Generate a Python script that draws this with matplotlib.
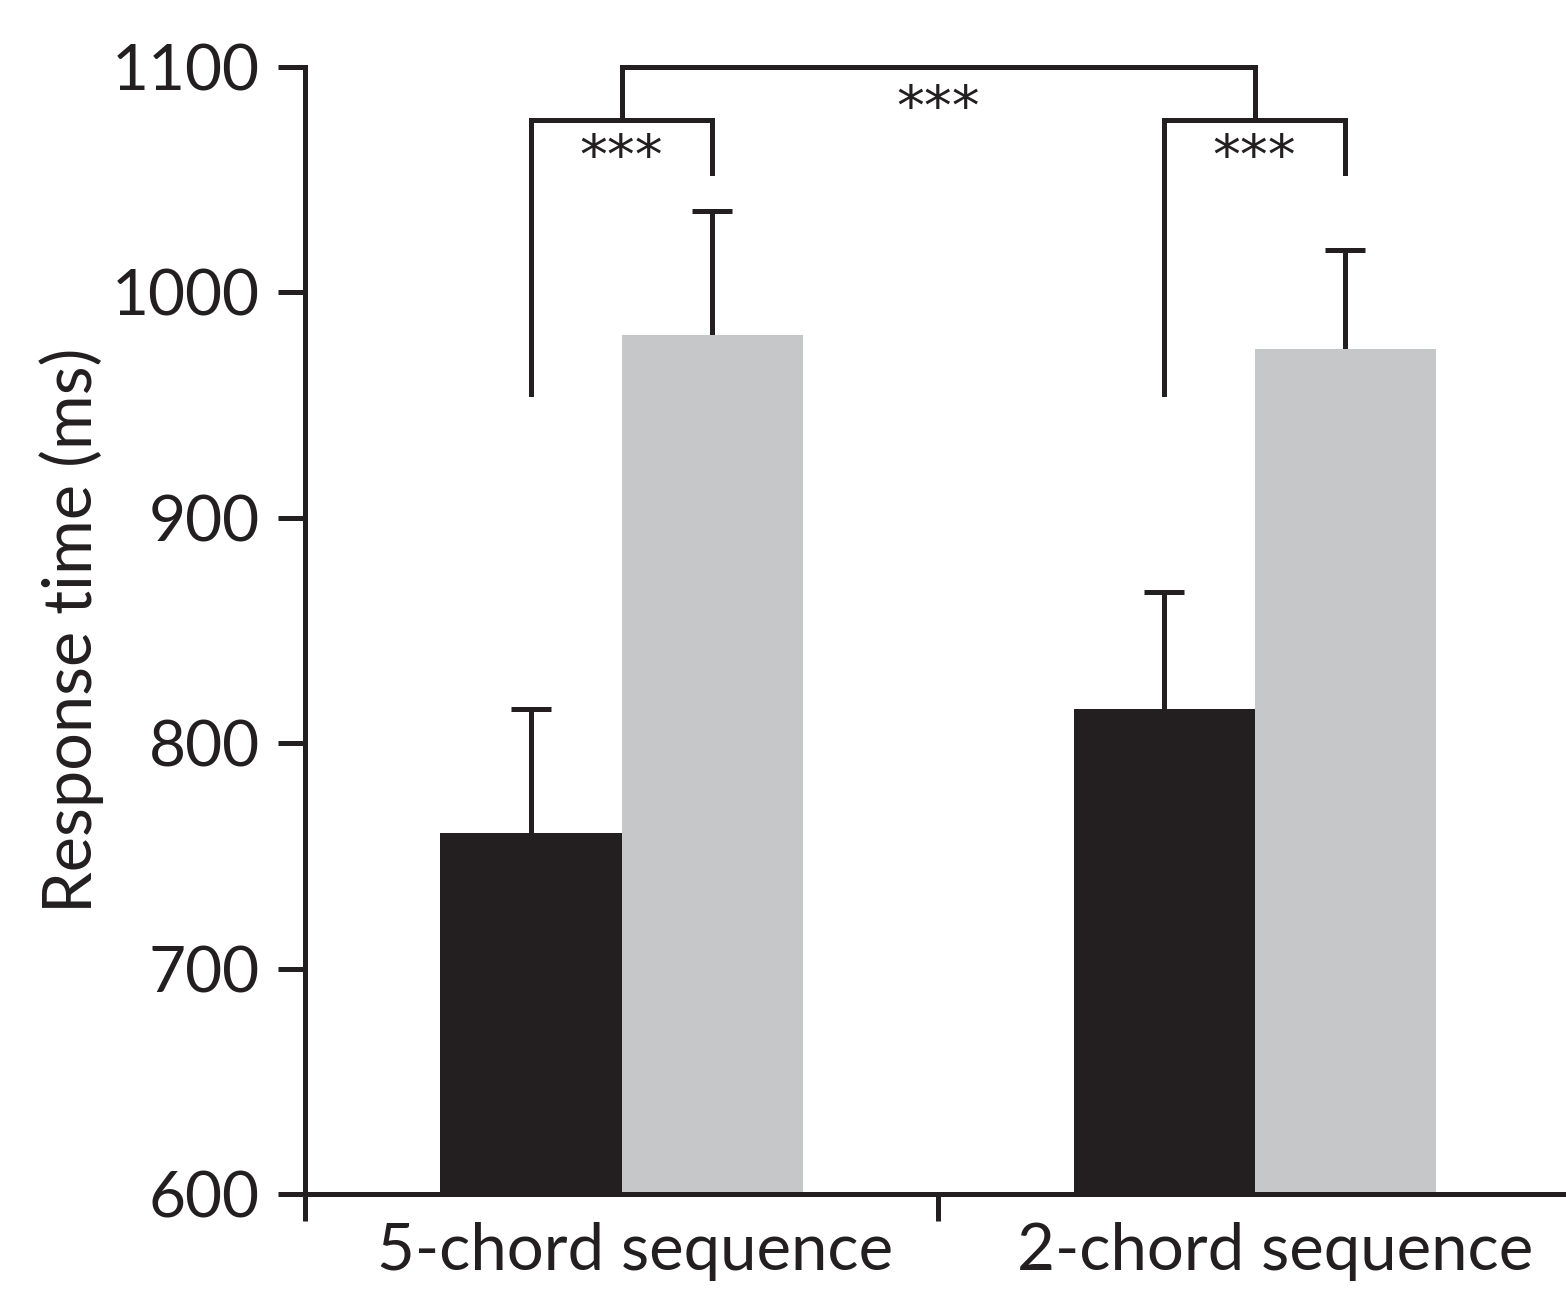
import matplotlib
matplotlib.use("Agg")
import matplotlib.pyplot as plt
import matplotlib.transforms as mtransforms

plt.rcParams['font.family'] = ['Lato', 'DejaVu Sans']

categories = ["5-chord sequence", "2-chord sequence"]
dark_means = [760, 815]
dark_err = [55, 52]
gray_means = [981, 975]
gray_err = [55, 44]
y_ticks = [600, 700, 800, 900, 1000, 1100]
sig_label = "***"

INK = "#231f20"
GRAY = "#c6c7c9"

fig = plt.figure(figsize=(15.66, 12.91), dpi=100)
ax = fig.add_axes([305/1566, 1-1194/1291, 1-305/1566, (1194-67)/1291])

centers = [0.5, 1.5]
w = 0.286
off = w/2
xd = [c - off for c in centers]
xg = [c + off for c in centers]

ax.bar(xd, [m - 600 for m in dark_means], width=w, bottom=600, color=INK, zorder=2)
ax.bar(xg, [m - 600 for m in gray_means], width=w, bottom=600, color=GRAY, zorder=2)

elw = 3.6
cap_half = 0.031
for xs, means, errs in [(xd, dark_means, dark_err), (xg, gray_means, gray_err)]:
    tops = [m + e for m, e in zip(means, errs)]
    ax.vlines(xs, means, tops, colors=INK, lw=elw, zorder=1)
    ax.hlines(tops, [x - cap_half for x in xs], [x + cap_half for x in xs],
              colors=INK, lw=elw, zorder=1)

lw = 3.6
# within-group brackets
for i in range(2):
    xl, xr = xd[i], xg[i]
    ax.plot([xl, xl, xr, xr], [955, 1076.5, 1076.5, 1053], color=INK, lw=lw,
            solid_joinstyle='miter', clip_on=False)
    ax.text((xl + xr)/2, 1059, sig_label, ha='center', va='center', fontsize=40,
            color=INK, family='DejaVu Sans')
# between-group bracket
ax.plot([centers[0], centers[0], centers[1], centers[1]], [1077, 1100, 1100, 1077],
        color=INK, lw=lw, solid_joinstyle='miter', clip_on=False)
ax.text(sum(centers)/2, 1081, sig_label, ha='center', va='center', fontsize=40,
        color=INK, family='DejaVu Sans')

ax.set_ylim(600, 1100)
ax.set_xlim(0, 1.992)
ax.set_yticks(y_ticks)
ax.set_yticklabels([str(t) for t in y_ticks])
ax.set_xticks([0, 1])
ax.set_xticklabels([])

for s in ['top', 'right']:
    ax.spines[s].set_visible(False)
for s in ['left', 'bottom']:
    ax.spines[s].set_linewidth(3.6)
    ax.spines[s].set_color(INK)
    ax.spines[s].set_capstyle('projecting')

ax.tick_params(axis='both', direction='out', length=19.5, width=3.6, color=INK,
               labelsize=46, labelcolor=INK, pad=13)

trans = mtransforms.blended_transform_factory(ax.transData, ax.transAxes)
for c, lab in zip([0.522, 1.532], categories):
    ax.text(c, -0.025, lab, transform=trans, ha='center', va='top', fontsize=47, color=INK)

ax.set_ylabel("Response time (ms)", fontsize=48, color=INK, labelpad=6)

fig.savefig("out.png", dpi=100)
